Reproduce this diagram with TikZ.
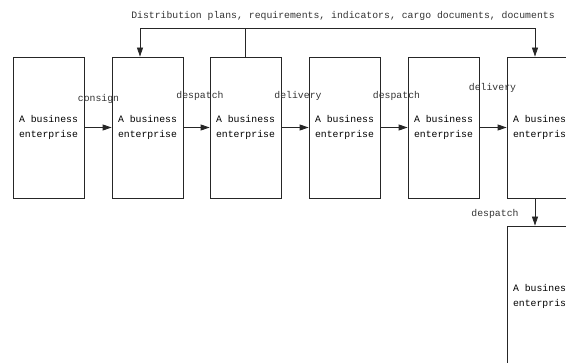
\documentclass[tikz,border=0pt]{standalone}
\usepackage{fontspec}
\setmainfont{Liberation Mono}
\usetikzlibrary{arrows.meta}
\tikzset{
  firm/.style={draw=black!85, line width=0.8pt, minimum width=71pt,
    minimum height=141pt, inner sep=0pt, align=center,
    font=\fontsize{9.8}{15}\selectfont},
  flow/.style={draw=black!85, line width=0.8pt,
    -{Triangle[length=9pt,width=6pt]}},
  tag/.style={inner sep=0pt, text=black!80, font=\fontsize{9.8}{12}\selectfont},
}
\begin{document}
\begin{tikzpicture}[x=1pt,y=-1pt]
    \useasboundingbox (0,0) rectangle (566,363);
    \clip (0,0) rectangle (566,363);
    \node[firm] (b1) at (48.5,127.5)  {A business\\enterprise};
    \node[firm] (b2) at (147.5,127.5) {A business\\enterprise};
    \node[firm] (b3) at (245.5,127.5) {A business\\enterprise};
    \node[firm] (b4) at (344.5,127.5) {A business\\enterprise};
    \node[firm] (b5) at (443.5,127.5) {A business\\enterprise};
    \node[firm] (b6) at (542.5,127.5) {A business\\enterprise};
    \node[firm] (b7) at (542.5,296.5) {A business\\enterprise};
    \draw[flow] (b1) -- (b2); \node[tag] (t1) at (98.5,99)  {consign};
    \draw[flow] (b2) -- (b3); \node[tag] (t2) at (200,96)   {despatch};
    \draw[flow] (b3) -- (b4); \node[tag] (t3) at (298,96)   {delivery};
    \draw[flow] (b4) -- (b5); \node[tag] (t4) at (396.5,96) {despatch};
    \draw[flow] (b5) -- (b6); \node[tag] (t5) at (492.5,88) {delivery};
    \draw[flow] ([xshift=-7.5pt]b6.south) -- ([xshift=-7.5pt]b7.north);
    \node[tag] (t6) at (495,214) {despatch};
    \coordinate (bus) at (245.5,28);
    \draw[draw=black!85, line width=0.8pt] (b3.north) -- (bus);
    \draw[flow] (bus) -| ([xshift=-7.5pt]b2.north);
    \draw[flow] (bus) -| ([xshift=-7.5pt]b6.north);
    \node[tag] (top) at (343,16)
      {Distribution plans, requirements, indicators, cargo documents, documents};
\end{tikzpicture}
\end{document}
